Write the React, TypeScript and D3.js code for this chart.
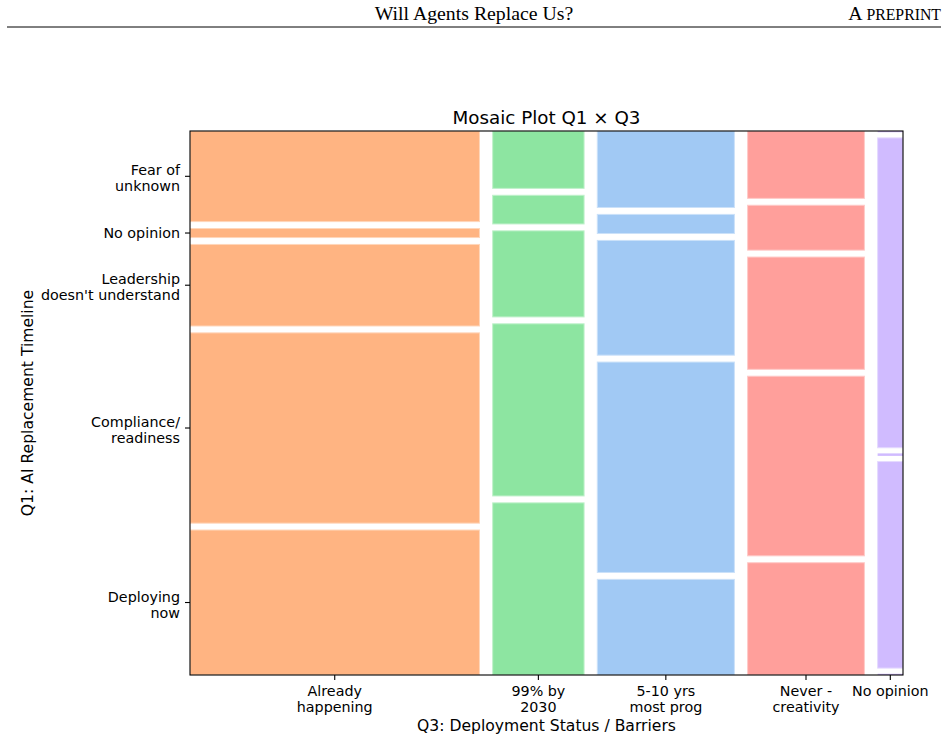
import React from "react";
import * as d3 from "d3";

// ---- data ----
const q3Labels = ["Already\nhappening", "99% by\n2030", "5-10 yrs\nmost prog", "Never -\ncreativity", "No opinion"];
// Q1 categories, bottom to top
const q1Labels = ["Deploying\nnow", "Compliance/\nreadiness", "Leadership\ndoesn't understand", "No opinion", "Fear of\nunknown"];
// counts per Q3 column, in Q1 order (bottom to top)
const alreadyHappening = [16, 21, 9, 1, 10];
const by2030 = [6, 6, 3, 1, 2];
const fiveToTenYrs = [5, 11, 6, 1, 4];
const neverCreativity = [5, 8, 5, 2, 3];
const noOpinionQ3 = [0, 2, 0, 3, 0];
const columnColors = ["#ffb482", "#8de5a1", "#a1c9f4", "#ff9f9b", "#d0bbff"];
const chartTitle = "Mosaic Plot Q1 \u00d7 Q3";
const xLabel = "Q3: Deployment Status / Barriers";
const yLabel = "Q1: AI Replacement Timeline";
const headerTitle = "Will Agents Replace Us?";
const baseGap = 0.02;

const columns = [alreadyHappening, by2030, fiveToTenYrs, neverCreativity, noOpinionQ3];

function splitUnit(values: number[], gap: number): [number, number][] {
  const total = d3.sum(values);
  const n = values.length;
  const ext = 1 + gap * (n - 1);
  let cum = 0;
  return values.map((v, i) => {
    const s = (cum / total + gap * i) / ext;
    const a = v / total / ext;
    cum += v;
    return [s, a];
  });
}

const W = 948;
const H = 741;
const left = 190;
const right = 903;
const top = 131;
const bottom = 675;
const font = "'DejaVu Sans', sans-serif";
const tickFont = 14.3;
const lineStep = 16;

export default function App() {
  const x = d3.scaleLinear().domain([0, 1]).range([left, right]);
  const y = d3.scaleLinear().domain([0, 1]).range([bottom, top]);
  const colSplit = splitUnit(columns.map((c) => d3.sum(c)), baseGap);
  const rowGap = baseGap / 1.5;

  const cells: any[] = [];
  columns.forEach((col, ci) => {
    const [cs, ca] = colSplit[ci];
    const rows = splitUnit(col, rowGap);
    rows.forEach(([rs, ra], ri) => {
      cells.push({ ci, ri, x0: x(cs), x1: x(cs + ca), y0: y(rs + ra), y1: y(rs), v: col[ri] });
    });
  });

  const xTicks = colSplit.map(([s, a], i) => ({ pos: x(s + a / 2), label: q3Labels[i] }));
  const firstRows = splitUnit(columns[0], rowGap);
  const yTicks = firstRows.map(([s, a], i) => ({ pos: y(s + a / 2), label: q1Labels[i] }));

  return (
    <svg
      width={W}
      height={H}
      viewBox={`0 0 ${W} ${H}`}
      style={{ position: "absolute", left: 0, top: 0, background: "#fff" }}
    >
      <rect x={0} y={0} width={W} height={H} fill="#fff" />
      {/* page header */}
      <text x={474} y={20} textAnchor="middle" fontFamily="'Liberation Serif', serif" fontSize={19.8} fill="#000">
        {headerTitle}
      </text>
      <text x={941} y={20} textAnchor="end" fontFamily="'Liberation Serif', serif" fill="#000">
        <tspan fontSize={19.8}>A </tspan>
        <tspan fontSize={15.8}>PREPRINT</tspan>
      </text>
      <line x1={7} x2={941} y1={27} y2={27} stroke="#000" strokeWidth={1} />

      <defs>
        <clipPath id="axclip">
          <rect x={left} y={top} width={right - left} height={bottom - top} />
        </clipPath>
      </defs>

      <g clipPath="url(#axclip)">
        {cells.map((c, i) => {
          const col = columnColors[c.ci];
          const edge = d3.interpolateRgb(col, "#ffffff")(0.45);
          if (c.v === 0) {
            return (
              <line key={i} x1={c.x0} x2={c.x1} y1={c.y0} y2={c.y0} stroke={col} strokeWidth={2.5} />
            );
          }
          return (
            <rect
              key={i}
              x={c.x0}
              y={c.y0}
              width={c.x1 - c.x0}
              height={c.y1 - c.y0}
              fill={col}
              stroke={edge}
              strokeWidth={1}
            />
          );
        })}
      </g>

      {/* frame */}
      <rect x={left} y={top} width={right - left} height={bottom - top} fill="none" stroke="#000" strokeWidth={1.1} />

      {/* x ticks */}
      {xTicks.map((t, i) => (
        <g key={i}>
          <line x1={t.pos} x2={t.pos} y1={bottom} y2={bottom + 5} stroke="#000" strokeWidth={1.1} />
          <text x={t.pos} textAnchor="middle" fontFamily={font} fontSize={tickFont} fill="#000">
            {t.label.split("\n").map((ln, j) => (
              <tspan key={j} x={t.pos} y={696 + j * lineStep}>
                {ln}
              </tspan>
            ))}
          </text>
        </g>
      ))}

      {/* y ticks */}
      {yTicks.map((t, i) => {
        const lines = t.label.split("\n");
        const base = t.pos + 5 - (lines.length - 1) * 6;
        return (
          <g key={i}>
            <line x1={left - 5} x2={left} y1={t.pos} y2={t.pos} stroke="#000" strokeWidth={1.1} />
            <text textAnchor="end" fontFamily={font} fontSize={tickFont} fill="#000">
              {lines.map((ln, j) => (
                <tspan key={j} x={left - 10} y={base + j * lineStep}>
                  {ln}
                </tspan>
              ))}
            </text>
          </g>
        );
      })}

      {/* title & axis labels */}
      <text x={(left + right) / 2} y={124} textAnchor="middle" fontFamily={font} fontSize={18.3} fill="#000">
        {chartTitle}
      </text>
      <text x={(left + right) / 2} y={731} textAnchor="middle" fontFamily={font} fontSize={15.6} fill="#000">
        {xLabel}
      </text>
      <text
        transform={`translate(33, ${(top + bottom) / 2}) rotate(-90)`}
        textAnchor="middle"
        fontFamily={font}
        fontSize={15.6}
        fill="#000"
      >
        {yLabel}
      </text>
    </svg>
  );
}
